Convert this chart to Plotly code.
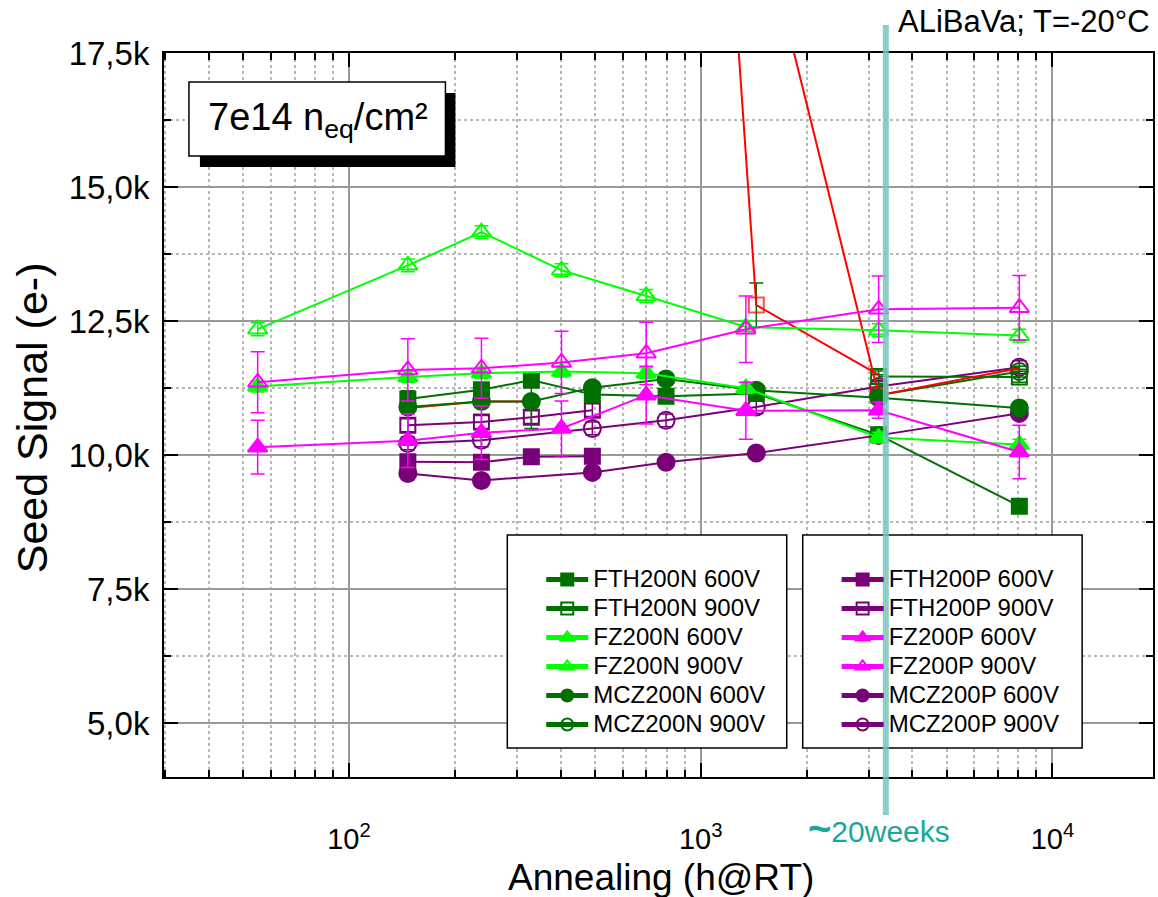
import plotly.graph_objects as go

# ---------------- data (annealing time in h, seed signal in electrons) ----------------
x_fth_n600 = [147, 238, 330, 492, 797, 1439, 3206, 8054]
y_fth_n600 = [11050, 11220, 11400, 11130, 11100, 11150, 10380, 9050]
e_fth_n600 = [150, 100, 100, 100, 100, 100, 100, 100]

x_fth_n900 = [3206, 8054]
y_fth_n900 = [11470, 11460]
e_fth_n900 = [100, 100]

x_fz_n600 = [55, 147, 238, 402, 700, 1344, 3206, 8054]
y_fz_n600 = [11280, 11460, 11530, 11560, 11530, 11250, 10330, 10200]
e_fz_n600 = [100, 100, 100, 100, 100, 100, 100, 100]

x_fz_n900 = [55, 147, 238, 402, 700, 1344, 3206, 8054]
y_fz_n900 = [12350, 13540, 14160, 13450, 12970, 12390, 12330, 12230]
e_fz_n900 = [120, 120, 120, 120, 120, 120, 120, 120]

x_mcz_n600 = [147, 238, 330, 492, 797, 1439, 3206, 8054]
y_mcz_n600 = [10900, 11000, 11000, 11260, 11420, 11210, 11070, 10880]
e_mcz_n600 = [100, 100, 500, 100, 100, 100, 100, 100]

x_mcz_n900 = [3206, 8054]
y_mcz_n900 = [11120, 11560]
e_mcz_n900 = [100, 100]

x_fth_p600 = [147, 238, 330, 492]
y_fth_p600 = [9880, 9870, 9970, 9980]
e_fth_p600 = [100, 100, 100, 100]

x_fth_p900 = [147, 238, 330, 492]
y_fth_p900 = [10560, 10620, 10710, 10840]
e_fth_p900 = [120, 120, 120, 120]

x_fz_p600 = [55, 147, 238, 402, 700, 1344, 3206, 8054]
y_fz_p600 = [10150, 10270, 10420, 10500, 11120, 10830, 10840, 10060]
e_fz_p600 = [500, 500, 500, 510, 540, 530, 150, 500]

x_fz_p900 = [55, 147, 238, 402, 700, 1344, 3206, 8054]
y_fz_p900 = [11360, 11590, 11620, 11730, 11900, 12350, 12720, 12750]
e_fz_p900 = [570, 580, 560, 580, 580, 620, 620, 600]

x_mcz_p600 = [147, 238, 492, 797, 1439, 3206, 8054]
y_mcz_p600 = [9660, 9530, 9680, 9870, 10040, 10370, 10780]
e_mcz_p600 = [100, 100, 100, 100, 100, 100, 100]

x_mcz_p900 = [147, 238, 492, 797, 1439, 3206, 8054]
y_mcz_p900 = [10220, 10280, 10500, 10650, 10900, 11280, 11640]
e_mcz_p900 = [120, 120, 120, 120, 120, 120, 120]

# unlabelled red curves
x_red0 = [147, 238, 330]
y_red0 = [10880, 11000, 11000]
x_red1 = [797, 1439, 3206]
y_red1 = [37000, 12800, 11500]
e_red1 = [0, 410, 0]
x_red2 = [1439, 3206, 8054]
y_red2 = [20350, 11120, 11620]

y_tickvals = [5000, 7500, 10000, 12500, 15000, 17500]
y_ticktext = ["5,0k", "7,5k", "10,0k", "12,5k", "15,0k", "17,5k"]
x_tickvals = [100, 1000, 10000]
x_ticktext = ["10<sup>2</sup>", "10<sup>3</sup>", "10<sup>4</sup>"]
weeks20_h = 3360

# ---------------- styling ----------------
DKGREEN = "#007000"
LIME = "#00ff00"
MAGENTA = "#ff00ff"
PURPLE = "#7a007a"
RED = "#ff0000"
TEAL_LINE = "rgba(120,196,190,0.85)"
TEAL_TEXT = "#19a898"
FONT = "Liberation Sans, Arial, sans-serif"
LEGEND_TEXT = "<span style='font-size:24px'>%s</span>"

fig = go.Figure()


def add(x, y, err, name, color, symbol, filled, legend, rank, size=16):
    fig.add_trace(go.Scatter(
        x=x, y=y, name=LEGEND_TEXT % name, mode="lines+markers",
        line=dict(color=color, width=2),
        marker=dict(symbol=symbol if filled else symbol + "-open", size=size,
                    color=color, line=dict(color=color, width=2)),
        error_y=dict(type="data", array=err, visible=True,
                     color=color, thickness=1.5, width=7),
        legend=legend, legendrank=rank,
    ))


# purple / dark series first (underneath)
add(x_fth_p600, y_fth_p600, e_fth_p600, "FTH200P 600V", PURPLE, "square", True, "legend2", 1, 15)
add(x_mcz_p600, y_mcz_p600, e_mcz_p600, "MCZ200P 600V", PURPLE, "circle", True, "legend2", 5, 17)
add(x_fth_p900, y_fth_p900, e_fth_p900, "FTH200P 900V", PURPLE, "square", False, "legend2", 2, 15)
add(x_mcz_p900, y_mcz_p900, e_mcz_p900, "MCZ200P 900V", PURPLE, "circle", False, "legend2", 6, 17)
add(x_fth_n900, y_fth_n900, e_fth_n900, "FTH200N 900V", DKGREEN, "square", False, "legend", 2, 15)
add(x_mcz_n900, y_mcz_n900, e_mcz_n900, "MCZ200N 900V", DKGREEN, "circle", False, "legend", 6, 17)

# red unlabelled curves (markers only where visible in the original)
fig.add_trace(go.Scatter(
    x=x_red0, y=y_red0, mode="lines+markers", showlegend=False,
    line=dict(color=RED, width=2),
    marker=dict(symbol="circle", size=[0, 17, 0], color=RED)))
fig.add_trace(go.Scatter(
    x=x_red1, y=y_red1, mode="lines+markers", showlegend=False,
    line=dict(color=RED, width=2),
    marker=dict(symbol="square-open", size=[0, 15, 0], color=RED, line=dict(color=RED, width=2)),
    error_y=dict(type="data", array=e_red1, color=DKGREEN, thickness=1.5, width=7)))
fig.add_trace(go.Scatter(
    x=x_red2, y=y_red2, mode="lines+markers", showlegend=False,
    line=dict(color=RED, width=2),
    marker=dict(symbol="square-open", size=[0, 15, 0], color=RED, line=dict(color=RED, width=2))))

add(x_mcz_n600, y_mcz_n600, e_mcz_n600, "MCZ200N 600V", DKGREEN, "circle", True, "legend", 5, 17)
add(x_fth_n600, y_fth_n600, e_fth_n600, "FTH200N 600V", DKGREEN, "square", True, "legend", 1, 15)
add(x_fz_n600, y_fz_n600, e_fz_n600, "FZ200N 600V", LIME, "triangle-up", True, "legend", 3, 17)
add(x_fz_p600, y_fz_p600, e_fz_p600, "FZ200P 600V", MAGENTA, "triangle-up", True, "legend2", 3, 17)
add(x_fz_n900, y_fz_n900, e_fz_n900, "FZ200N 900V", LIME, "triangle-up", False, "legend", 4, 17)
add(x_fz_p900, y_fz_p900, e_fz_p900, "FZ200P 900V", MAGENTA, "triangle-up", False, "legend2", 4, 17)

# ---------------- layout ----------------
L, R, T, B = 164, 3, 53, 120
W, H = 1158, 897
pw, ph = W - L - R, H - T - B


def px(xp):
    return (xp - L) / pw


def py(yp):
    return (H - B - yp) / ph


x_minor = [v * d for d in (10, 100, 1000, 10000) for v in range(2, 10)]
y_minor = [6250, 8750, 11250, 13750, 16250]

shapes = [
    # title box shadow and box
    dict(type="rect", xref="paper", yref="paper", x0=px(200), x1=px(456), y0=py(167), y1=py(93),
         fillcolor="black", line=dict(width=0), layer="above"),
    dict(type="rect", xref="paper", yref="paper", x0=px(189), x1=px(446), y0=py(156), y1=py(82),
         fillcolor="white", line=dict(color="black", width=1.5), layer="above"),
    # legend boxes
    dict(type="rect", xref="paper", yref="paper", x0=px(508), x1=px(788), y0=py(748), y1=py(535),
         fillcolor="white", line=dict(color="black", width=1.5), layer="above"),
    dict(type="rect", xref="paper", yref="paper", x0=px(804), x1=px(1084), y0=py(748), y1=py(535),
         fillcolor="white", line=dict(color="black", width=1.5), layer="above"),
    # 20 weeks marker
    dict(type="line", xref="x", yref="paper", x0=weeks20_h, x1=weeks20_h, y0=py(815), y1=py(25),
         line=dict(color=TEAL_LINE, width=6), layer="above"),
]


def note(x, y, text, size, color="black", angle=0):
    return dict(xref="paper", yref="paper", x=px(x), y=py(y), text=text, textangle=angle,
                xanchor="center", yanchor="middle", showarrow=False,
                font=dict(family=FONT, size=size, color=color))


annotations = [
    note(318, 120, "7e14 n<sub>eq</sub>/cm²", 38),
    note(1026, 22, "ALiBaVa; T=-20°C", 31),
    note(880, 828, "<b><span style='font-size:40px'>~</span></b>20weeks", 30, TEAL_TEXT),
    note(662, 877, "Annealing (h@RT)", 37),
    note(32, 418, "Seed Signal (e-)", 43, angle=-90),
]

legend_common = dict(
    bgcolor="rgba(0,0,0,0)", borderwidth=0, font=dict(family=FONT, size=20, color="black"),
    xanchor="left", yanchor="top", traceorder="normal", itemsizing="constant", itemwidth=42,
)

fig.update_layout(
    width=W, height=H,
    margin=dict(l=L, r=R, t=T, b=B),
    paper_bgcolor="white", plot_bgcolor="white",
    showlegend=True,
    legend=dict(x=px(542), y=py(560), **legend_common),
    legend2=dict(x=px(838), y=py(560), **legend_common),
    shapes=shapes,
    annotations=annotations,
    xaxis=dict(
        type="log", range=[1.474, 4.286],
        tickvals=x_tickvals, ticktext=x_ticktext,
        tickfont=dict(family=FONT, size=29, color="black"),
        ticks="inside", ticklen=14, tickwidth=2, tickcolor="black",
        showline=True, linewidth=2, linecolor="black", mirror="allticks",
        showgrid=True, gridcolor="#999999", gridwidth=1.5,
        ticklabelstandoff=35,
        minor=dict(tickvals=x_minor, ticks="inside", ticklen=7, tickwidth=1.5, tickcolor="black",
                   showgrid=True, gridcolor="#b8b8b8", griddash="dot", gridwidth=1.5),
        zeroline=False,
    ),
    yaxis=dict(
        range=[4000, 17500],
        tickvals=y_tickvals, ticktext=y_ticktext,
        tickfont=dict(family=FONT, size=33, color="black"),
        ticks="inside", ticklen=14, tickwidth=2, tickcolor="black",
        showline=True, linewidth=2, linecolor="black", mirror="allticks",
        showgrid=True, gridcolor="#999999", gridwidth=1.5,
        ticklabelstandoff=6,
        minor=dict(tickvals=y_minor, ticks="inside", ticklen=7, tickwidth=1.5, tickcolor="black",
                   showgrid=True, gridcolor="#b8b8b8", griddash="dot", gridwidth=1.5),
        zeroline=False,
    ),
)

fig.write_html("out.html")
